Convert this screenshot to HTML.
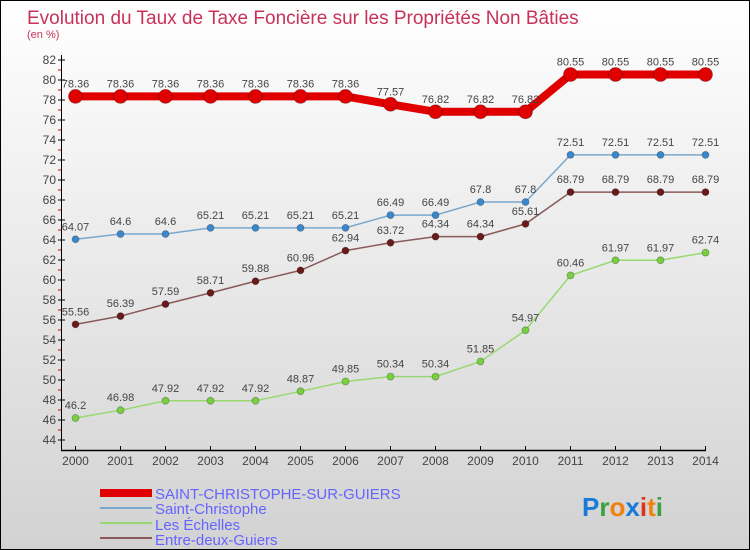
<!DOCTYPE html>
<html><head><meta charset="utf-8"><style>
body{margin:0;}
#c{width:750px;height:550px;position:relative;overflow:hidden;}
svg{display:block;font-family:"Liberation Sans",sans-serif;}
</style></head><body>
<div id="c">
<svg id="s" width="750" height="550">
<defs><linearGradient id="bg" x1="0" y1="0" x2="0" y2="1"><stop offset="0" stop-color="#ffffff"/><stop offset="1" stop-color="#d2d2d2"/></linearGradient></defs>
<rect x="0.5" y="0.5" width="749" height="549" fill="url(#bg)" stroke="#000"/>
<text x="27" y="24" font-size="19" fill="#c8325a">Evolution du Taux de Taxe Foncière sur les Propriétés Non Bâties</text>
<text x="27" y="38" font-size="11" fill="#c8325a">(en %)</text>
<g id="axes"></g><g id="series"></g>
<g>
<rect x="100" y="489" width="52" height="8" fill="#e00000"/>
<text x="155" y="499" font-size="15" fill="#6464ff">SAINT-CHRISTOPHE-SUR-GUIERS</text>
<rect x="100" y="507" width="52" height="2" fill="#7aa8cc"/>
<text x="155" y="514" font-size="15" fill="#6464ff">Saint-Christophe</text>
<rect x="100" y="522" width="52" height="2" fill="#98d870"/>
<text x="155" y="530" font-size="15" fill="#6464ff">Les Échelles</text>
<rect x="100" y="537" width="52" height="2" fill="#8a5a5a"/>
<text x="155" y="545" font-size="15" fill="#6464ff">Entre-deux-Guiers</text>
</g>
<g font-size="26" font-weight="bold">
<text x="582" y="516"><tspan fill="#1a7ad8">P</tspan><tspan fill="#3aa040">r</tspan><tspan fill="#f08010">o</tspan><tspan fill="#1a7ad8">x</tspan><tspan fill="#e03020">i</tspan><tspan fill="#f08010">t</tspan><tspan fill="#3aa040">i</tspan></text>
</g>
</svg></div>
<script>
const years=[2000,2001,2002,2003,2004,2005,2006,2007,2008,2009,2010,2011,2012,2013,2014];
const yTicks=[44,46,48,50,52,54,56,58,60,62,64,66,68,70,72,74,76,78,80,82];
const sStChristopheSurGuiers=[78.36,78.36,78.36,78.36,78.36,78.36,78.36,77.57,76.82,76.82,76.82,80.55,80.55,80.55,80.55];
const sStChristophe=[64.07,64.6,64.6,65.21,65.21,65.21,65.21,66.49,66.49,67.8,67.8,72.51,72.51,72.51,72.51];
const sLesEchelles=[46.2,46.98,47.92,47.92,47.92,48.87,49.85,50.34,50.34,51.85,54.97,60.46,61.97,61.97,62.74];
const sEntreDeux=[55.56,56.39,57.59,58.71,59.88,60.96,62.94,63.72,64.34,64.34,65.61,68.79,68.79,68.79,68.79];
const NS="http://www.w3.org/2000/svg";
const X=i=>75.5+i*45;
const Y=v=>60+(82-v)*10;
function mk(t,a,p){const e=document.createElementNS(NS,t);for(const k in a)e.setAttribute(k,a[k]);p.appendChild(e);return e;}
const ax=document.getElementById('axes');
let l=mk('line',{x1:61.5,y1:55,x2:61.5,y2:450,stroke:'#000'},ax);


l=mk('line',{x1:61,y1:450.5,x2:706,y2:450.5,stroke:'#000',"stroke-width":1.5},ax);


yTicks.forEach(v=>{
  mk('line',{x1:58,y1:Y(v),x2:65,y2:Y(v),stroke:'#000'},ax);
  const t=mk('text',{x:56,y:Y(v)+4,"font-size":12,fill:'#444',"text-anchor":'end'},ax);
  t.textContent=v;
  
  
  if(v<82) mk('line',{x1:58,y1:Y(v+1),x2:61,y2:Y(v+1),stroke:'#e00000'},ax);
});
years.forEach((yr,i)=>{
  mk('line',{x1:X(i),y1:446,x2:X(i),y2:451,stroke:'#000'},ax);
  const t=mk('text',{x:X(i),y:465,"font-size":12,fill:'#444',"text-anchor":'middle'},ax);
  t.textContent=yr;
  
  
});
const sg=document.getElementById('series');
function series(data,name,color,w,r,fill){
  const g=mk('g',{},sg);
  
  
  const p=mk('polyline',{points:data.map((v,i)=>X(i)+','+Y(v)).join(' '),fill:'none',stroke:color,"stroke-width":w},g);
  
  
  data.forEach((v,i)=>{
    const c=mk('circle',{cx:X(i),cy:Y(v),r:r,fill:fill,stroke:'rgba(0,0,0,0.3)',"stroke-width":0.8},g);
    
    
    const t=mk('text',{x:X(i),y:Y(v)-9,"font-size":11,fill:'#444',"text-anchor":'middle'},g);
    t.textContent=v;
    
    
  });
}
series(sLesEchelles,'les-echelles','#98d870',1.5,3.5,'#78d040');
series(sEntreDeux,'entre-deux-guiers','#8a5a5a',1.5,3.5,'#6a1a1a');
series(sStChristophe,'saint-christophe','#7aa8cc',1.5,3.5,'#3a88cc');
series(sStChristopheSurGuiers,'saint-christophe-sur-guiers','#e00000',8,7,'#e00000');
</script>
</body></html>
